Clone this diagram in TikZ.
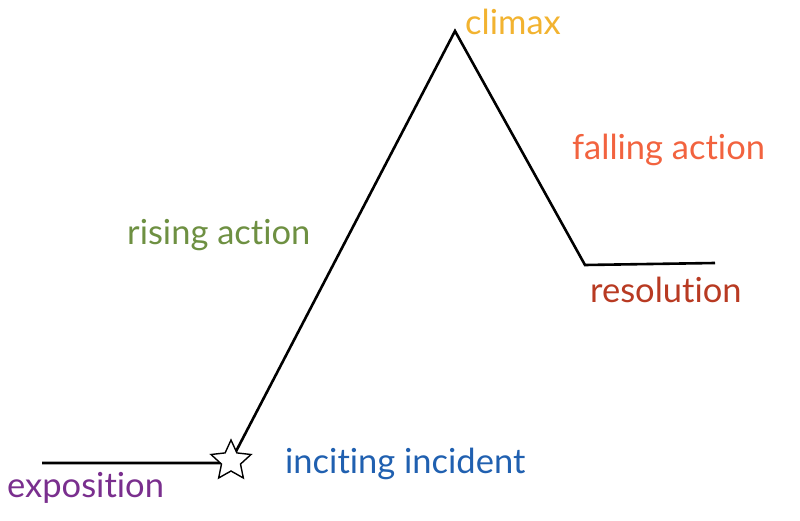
\documentclass[tikz,border=0pt]{standalone}
\usepackage{fontspec}
\setmainfont{Lato}[Ligatures={NoCommon}]
\usetikzlibrary{shapes.geometric}
\definecolor{cclimax}{HTML}{F2B330}
\definecolor{cfall}{HTML}{F2633F}
\definecolor{crise}{HTML}{6E9042}
\definecolor{cres}{HTML}{B83A22}
\definecolor{cinc}{HTML}{2060B0}
\definecolor{cexp}{HTML}{7A2F8E}
\tikzset{
  plotline/.style={line width=2.6pt, line join=miter},
  lbl/.style={anchor=base west, inner sep=0pt, font=\fontsize{34.5}{40}\selectfont},
  starmark/.style={star, star points=5, star point ratio=2.1, minimum size=42pt, inner sep=0pt, draw, line width=1.4pt, fill=white}
}
\begin{document}
\begin{tikzpicture}[x=1pt,y=-1pt]
\useasboundingbox (0,0) rectangle (800,521);
\coordinate (p0) at (42,463);
\coordinate (sc) at (231,461);
\coordinate (peak) at (455,31);
\coordinate (valley) at (585,265);
\coordinate (pend) at (715,263);
\draw[plotline] (p0) -- (sc |- p0) -- (sc) -- (peak) -- (valley) -- (pend);
\node[starmark] (st) at (sc) {};
\node[lbl, text=cclimax] (climax) at (465,35) {climax};
\node[lbl, text=cfall] (fall) at (572,160) {falling action};
\node[lbl, text=crise] (rise) at (127,245) {rising action};
\node[lbl, text=cres] (res) at (590,302) {resolution};
\node[lbl, text=cinc] (inc) at (285,473) {inciting incident};
\node[lbl, text=cexp] (expo) at (7,497) {exposition};
\end{tikzpicture}
\end{document}
